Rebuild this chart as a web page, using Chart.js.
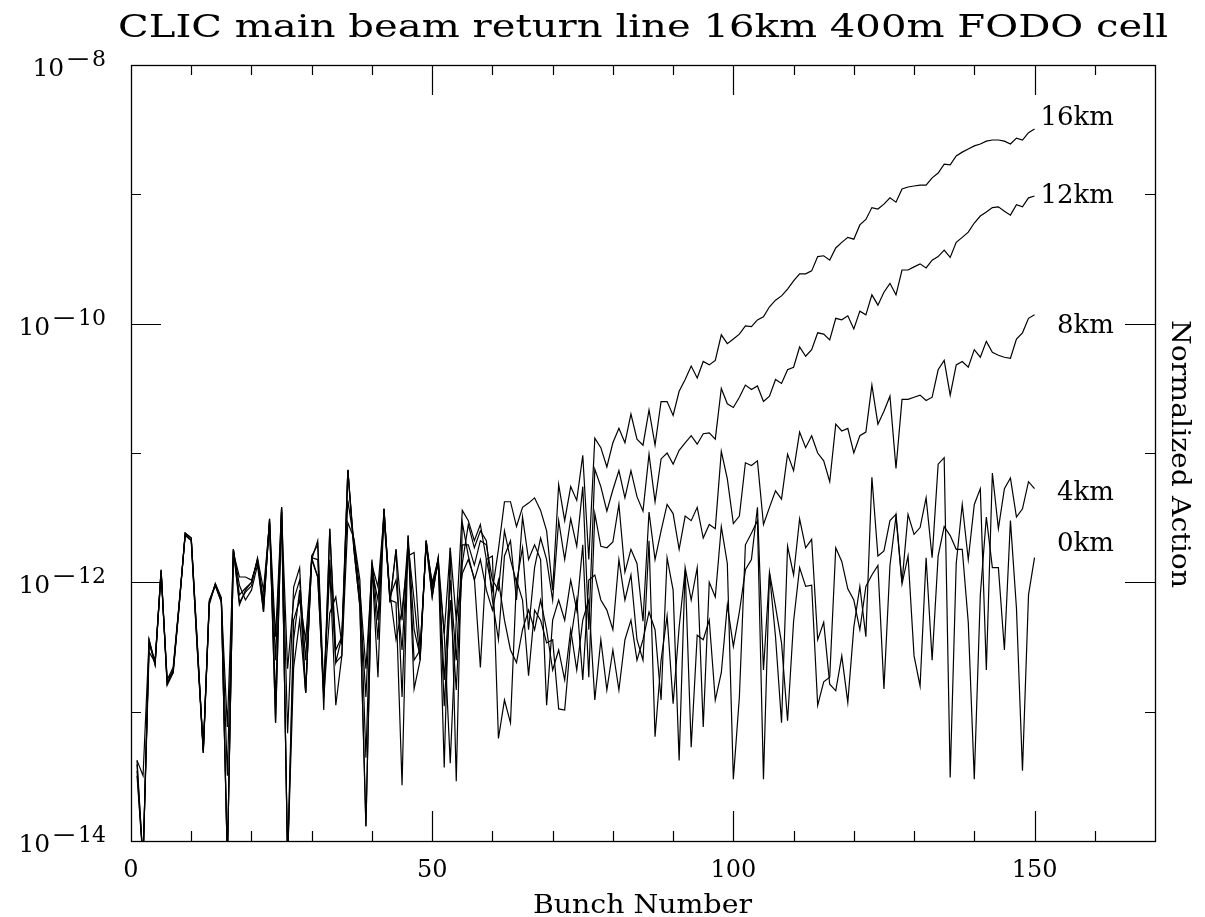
<!DOCTYPE html>
<html>
<head>
<meta charset="utf-8">
<script src="https://cdn.jsdelivr.net/npm/chart.js@4.4.1/dist/chart.umd.min.js"></script>
<style>
  html, body { margin: 0; padding: 0; background: #fff; }
</style>
</head>
<body>
<canvas id="chart-action" width="1205" height="917"></canvas>
<script>
// bunch index along the train
var bunches = Array.from({ length: 150 }, (_, i) => i + 1);

// normalized action per bunch
var action16km = [
  4.2e-14, 3.2e-14, 3.6e-13, 2.3e-13, 1.25e-12, 1.65e-13, 2.1e-13, 6.7e-13, 2.4e-12, 2.2e-12,
  3.3e-13, 5.0e-14, 7.0e-13, 9.7e-13, 7.3e-13, 3.2e-14, 1.8e-12, 8.0e-13, 9.0e-13, 1.0e-12,
  1.5e-12, 5.9e-13, 3.1e-12, 8.2e-14, 3.8e-12, 6.8e-14, 9.2e-13, 1.3e-12, 1.4e-13, 1.55e-12,
  1.1e-12, 1.3e-13, 2.6e-12, 2.4e-13, 3.8e-13, 7.4e-12, 1.8e-12, 6.5e-13, 1.3e-14, 1.36e-12,
  1.85e-13, 3.7e-12, 7.0e-13, 1.8e-12, 1.3e-13, 2.3e-12, 1.5e-13, 2.5e-13, 2.1e-12, 7.7e-13,
  1.55e-12, 4.0e-13, 1.85e-12, 5.1e-13, 3.6e-12, 3.0e-12, 2.1e-12, 2.8e-12, 1.5e-12, 8.7e-13,
  1.8e-12, 4.2e-12, 4.2e-12, 2.7e-12, 3.8e-12, 4.1e-12, 4.5e-12, 3.6e-12, 2.5e-12, 8.7e-13,
  5.7e-12, 3.0e-12, 5.5e-12, 4.3e-12, 9.6e-12, 1.5e-12, 1.3e-11, 1.1e-11, 7.8e-12, 1.2e-11,
  1.55e-11, 1.2e-11, 2.0e-11, 1.28e-11, 1.15e-11, 2.15e-11, 1.15e-11, 2.5e-11, 2.5e-11, 1.95e-11,
  3.0e-11, 3.7e-11, 4.7e-11, 3.8e-11, 5.1e-11, 4.8e-11, 5.2e-11, 8.2e-11, 7.0e-11, 7.6e-11,
  8.3e-11, 9.6e-11, 9.5e-11, 1.07e-10, 1.13e-10, 1.35e-10, 1.52e-10, 1.64e-10, 1.85e-10, 2.14e-10,
  2.43e-10, 2.43e-10, 2.56e-10, 3.3e-10, 3.35e-10, 3.1e-10, 3.85e-10, 4.25e-10, 4.65e-10, 4.5e-10,
  5.8e-10, 6.4e-10, 7.9e-10, 7.7e-10, 8.4e-10, 9.4e-10, 8.7e-10, 1.1e-9, 1.14e-9, 1.16e-9,
  1.18e-9, 1.18e-9, 1.34e-9, 1.46e-9, 1.71e-9, 1.69e-9, 1.98e-9, 2.12e-9, 2.24e-9, 2.37e-9,
  2.45e-9, 2.58e-9, 2.63e-9, 2.63e-9, 2.58e-9, 2.45e-9, 2.72e-9, 2.63e-9, 3.0e-9, 3.2e-9
];

var action12km = [
  3.5e-14, 7e-15, 3.3e-13, 2.5e-13, 1.22e-12, 1.76e-13, 2.2e-13, 7.0e-13, 2.3e-12, 2.1e-12,
  3.1e-13, 5.2e-14, 7.3e-13, 9.5e-13, 7.1e-13, 7.6e-14, 1.7e-12, 1.1e-12, 1.1e-12, 1.04e-12,
  1.45e-12, 7.3e-13, 3.0e-12, 3.8e-13, 3.6e-12, 7e-15, 5.1e-13, 7.3e-13, 3.6e-13, 1.5e-12,
  2.1e-12, 1.47e-13, 1.25e-12, 1.12e-13, 2.7e-13, 2.9e-12, 2.2e-12, 1.04e-12, 4.4e-14, 1.36e-12,
  9.2e-13, 3.3e-12, 8.2e-13, 3.6e-13, 6.1e-13, 1.6e-12, 1.7e-12, 3.0e-13, 1.95e-12, 1.0e-12,
  1.5e-12, 1.76e-13, 1.04e-12, 2.5e-13, 1.95e-12, 1.95e-12, 1.36e-12, 2.1e-12, 1.95e-12, 1.04e-12,
  8.7e-13, 2.5e-12, 1.5e-12, 1.0e-12, 1.85e-12, 4.3e-13, 1.3e-12, 2.2e-12, 1.5e-12, 7.3e-13,
  3.0e-12, 1.5e-12, 3.1e-12, 1.9e-12, 5.5e-12, 4.3e-13, 7.5e-12, 5.5e-12, 3.55e-12, 5.2e-12,
  7.3e-12, 4.5e-12, 7.3e-12, 4.6e-12, 3.55e-12, 9.8e-12, 4.2e-12, 9.0e-12, 1.0e-11, 8.2e-12,
  1.05e-11, 1.2e-11, 1.36e-11, 1.17e-11, 1.41e-11, 1.43e-11, 1.28e-11, 3.15e-11, 2.4e-11, 2.25e-11,
  2.7e-11, 3.35e-11, 3.1e-11, 3.3e-11, 2.5e-11, 2.75e-11, 3.7e-11, 3.45e-11, 4.4e-11, 4.6e-11,
  6.6e-11, 5.6e-11, 6.3e-11, 8.5e-11, 8.3e-11, 7.5e-11, 1.1e-10, 1.07e-10, 1.15e-10, 9.1e-11,
  1.25e-10, 1.17e-10, 1.67e-10, 1.39e-10, 1.75e-10, 2.05e-10, 1.67e-10, 2.6e-10, 2.6e-10, 2.75e-10,
  2.9e-10, 2.7e-10, 3.1e-10, 3.3e-10, 3.7e-10, 3.25e-10, 4.25e-10, 4.65e-10, 5.1e-10, 6.0e-10,
  6.8e-10, 7.3e-10, 7.9e-10, 8.0e-10, 7.4e-10, 6.9e-10, 8.3e-10, 8.0e-10, 9.4e-10, 9.7e-10
];

var action8km = [
  4.2e-14, 7e-15, 3.5e-13, 2.3e-13, 1.25e-12, 1.6e-13, 2.0e-13, 6.5e-13, 2.4e-12, 2.2e-12,
  3.5e-13, 4.8e-14, 6.7e-13, 9.8e-13, 7.6e-13, 7e-15, 1.8e-12, 7.0e-13, 8.4e-13, 9.4e-13,
  1.55e-12, 8.7e-13, 2.9e-12, 2.5e-13, 3.8e-12, 7e-15, 2.2e-13, 5.1e-13, 1.4e-13, 1.55e-12,
  1.5e-12, 1.3e-13, 5.8e-13, 7.7e-13, 3.3e-13, 7.4e-12, 1.95e-12, 7.3e-13, 1.3e-13, 1.5e-12,
  5.1e-13, 3.7e-12, 7.3e-13, 7.0e-13, 2.7e-14, 2.3e-12, 4.3e-13, 2.7e-13, 2.1e-12, 8.7e-13,
  1.55e-12, 1.1e-13, 7.3e-13, 1.47e-13, 1.4e-12, 2.8e-12, 1.85e-12, 2.5e-12, 2.1e-12, 7.3e-13,
  3.6e-13, 1.6e-12, 2.1e-12, 7.3e-13, 3.2e-12, 1.5e-12, 1.95e-12, 1.5e-12, 1.12e-13, 5.1e-13,
  7.3e-13, 5.1e-13, 1.04e-12, 6.1e-13, 1.95e-12, 1.85e-13, 3.4e-12, 1.9e-12, 1.85e-12, 2.05e-12,
  4.0e-12, 1.2e-12, 1.8e-12, 1.4e-12, 5.0e-13, 3.5e-12, 1.5e-12, 2.5e-12, 4.0e-12, 3.4e-12,
  1.8e-12, 3.25e-12, 3.0e-12, 3.8e-12, 2.2e-12, 2.8e-12, 2.6e-12, 1.03e-11, 6.3e-12, 2.85e-12,
  3.25e-12, 8.4e-12, 8.0e-12, 8.7e-12, 2.8e-12, 3.8e-12, 5.1e-12, 4.4e-12, 9.8e-12, 7.3e-12,
  1.45e-11, 1.1e-11, 1.36e-11, 1.0e-11, 8.7e-12, 6.0e-12, 1.67e-11, 1.48e-11, 1.55e-11, 1.0e-11,
  1.36e-11, 1.45e-11, 3.35e-11, 1.67e-11, 2.1e-11, 2.75e-11, 7.6e-12, 2.6e-11, 2.6e-11, 2.7e-11,
  2.8e-11, 2.55e-11, 2.7e-11, 4.4e-11, 5.2e-11, 2.8e-11, 4.8e-11, 5.1e-11, 4.6e-11, 6.3e-11,
  5.5e-11, 7.3e-11, 6.0e-11, 5.7e-11, 5.5e-11, 5.4e-11, 7.6e-11, 8.5e-11, 1.1e-10, 1.17e-10
];

var action4km = [
  3.2e-14, 7e-15, 2.9e-13, 2.4e-13, 1.15e-12, 1.8e-13, 2.0e-13, 6.8e-13, 2.35e-12, 2.1e-12,
  3.0e-13, 4.8e-14, 7.1e-13, 9.4e-13, 7.0e-13, 7e-15, 1.75e-12, 9.5e-13, 7.3e-13, 8.7e-13,
  1.36e-12, 5.9e-13, 3.1e-12, 8.2e-14, 3.5e-12, 2.15e-13, 7.3e-13, 1.04e-12, 2.5e-13, 1.6e-12,
  1.95e-12, 1.03e-13, 2.6e-12, 3.0e-13, 3.8e-13, 4.3e-12, 2.1e-12, 8.7e-13, 2.15e-13, 1.25e-12,
  7.3e-13, 3.0e-12, 7.7e-13, 1.04e-12, 3.0e-13, 1.95e-12, 7.3e-13, 2.5e-13, 2.1e-12, 9.5e-13,
  1.36e-12, 4.0e-13, 4.0e-14, 5.1e-13, 1.17e-12, 1.5e-12, 1.08e-12, 2.2e-13, 1.5e-12, 1.6e-12,
  6.2e-14, 1.23e-13, 8.2e-14, 1.04e-12, 7.3e-13, 1.9e-13, 6.1e-13, 5.1e-13, 3.4e-13, 3.6e-13,
  1.05e-13, 1.03e-13, 3.6e-13, 7.3e-13, 1.76e-13, 1.04e-12, 1.14e-12, 7.3e-13, 6.1e-13, 4.3e-13,
  1.5e-12, 7.3e-13, 1.14e-12, 3.6e-13, 2.5e-13, 2.1e-12, 6.4e-14, 2.5e-13, 5.5e-13, 1.15e-13,
  4.5e-13, 1.25e-12, 5.3e-14, 3.9e-13, 3.6e-13, 5.1e-13, 1.23e-13, 2.0e-13, 6.7e-13, 3.2e-13,
  5.9e-13, 1.25e-12, 1.5e-12, 3.8e-12, 2.1e-13, 1.17e-12, 3.8e-13, 8.2e-14, 1.9e-12, 1.14e-12,
  3.1e-12, 1.85e-12, 2.15e-12, 3.6e-13, 4.9e-13, 1.63e-13, 1.45e-13, 2.7e-13, 1.18e-13, 4.5e-13,
  9.3e-13, 3.8e-13, 6.5e-12, 1.6e-12, 1.75e-12, 3.0e-12, 3.35e-12, 1.0e-12, 3.35e-12, 2.35e-12,
  2.65e-12, 4.5e-12, 1.55e-12, 8.2e-12, 9.2e-12, 3.1e-14, 1.4e-12, 4.0e-12, 1.5e-12, 4.0e-12,
  5.3e-12, 2.1e-13, 7.0e-12, 2.6e-12, 5.3e-12, 6.4e-12, 3.2e-12, 3.7e-12, 6.0e-12, 5.3e-12
];

var action0km = [
  3.9e-14, 7e-15, 3.6e-13, 2.4e-13, 1.22e-12, 1.65e-13, 2.1e-13, 6.7e-13, 2.4e-12, 2.2e-12,
  3.3e-13, 5.0e-14, 7.0e-13, 9.7e-13, 7.3e-13, 7e-15, 1.8e-12, 6.7e-13, 8.7e-13, 1.0e-12,
  1.5e-12, 6.7e-13, 2.8e-12, 1.23e-13, 3.8e-12, 7e-15, 3.6e-13, 8.7e-13, 1.4e-13, 1.5e-12,
  1.1e-12, 1.47e-13, 1.5e-12, 2.4e-13, 2.7e-13, 7.4e-12, 1.8e-12, 6.5e-13, 1.3e-14, 1.36e-12,
  3.6e-13, 3.7e-12, 7.0e-13, 1.8e-12, 5.1e-13, 2.1e-12, 2.5e-13, 3.0e-13, 1.95e-12, 7.7e-13,
  1.5e-12, 3.7e-14, 1.85e-12, 2.9e-14, 2.9e-12, 1.6e-12, 1.04e-12, 1.5e-12, 8.7e-13, 6.1e-13,
  1.04e-12, 5.1e-13, 3.0e-13, 2.4e-13, 4.3e-13, 6.1e-13, 4.3e-13, 7.3e-13, 4.3e-13, 2.1e-13,
  3.0e-13, 1.76e-13, 4.3e-13, 2.1e-13, 5.1e-13, 7.3e-13, 1.23e-13, 3.6e-13, 1.47e-13, 3.0e-13,
  1.47e-13, 3.6e-13, 5.1e-13, 2.5e-13, 3.6e-13, 5.9e-13, 4.3e-13, 1.23e-13, 1.55e-12, 8.7e-13,
  4.2e-14, 1.3e-12, 7.3e-13, 1.3e-12, 7.6e-14, 1.0e-12, 7.7e-13, 2.7e-12, 1.4e-12, 3.0e-14,
  1.3e-13, 1.95e-12, 2.4e-12, 3.0e-12, 3.0e-14, 1.2e-12, 6.5e-13, 3.4e-13, 8.5e-14, 5.0e-13,
  1.3e-12, 9.3e-13, 9.5e-13, 1.12e-13, 1.7e-13, 1.85e-13, 1.85e-12, 1.45e-12, 8.9e-13, 7.3e-13,
  4.3e-13, 9.3e-13, 1.14e-12, 1.35e-12, 1.5e-13, 1.35e-12, 3.25e-12, 9.7e-13, 1.6e-12, 2.7e-13,
  1.58e-13, 1.55e-12, 2.5e-13, 1.6e-12, 2.7e-12, 2.3e-12, 1.8e-12, 1.8e-12, 4.9e-13, 3.0e-14,
  8.0e-13, 3.2e-12, 1.3e-12, 1.3e-12, 3.0e-13, 3.0e-12, 6.3e-13, 3.5e-14, 8.0e-13, 1.55e-12
];

var seriesNames = ["16km", "12km", "8km", "4km", "0km"];
var xTickLabels = [0, 50, 100, 150];
var yTickExponents = [-14, -12, -10, -8];

var FONT = "DejaVu Serif";

function toPoints(values) {
  return values.map(function (v, i) {
    return { x: bunches[i], y: v };
  });
}

// draw text squeezed/stretched to a given width
function fitText(ctx, text, x, y, width, align) {
  var w = ctx.measureText(text).width;
  ctx.save();
  ctx.translate(x, y);
  ctx.scale(width / w, 1);
  ctx.textAlign = align;
  ctx.fillText(text, 0, 0);
  ctx.restore();
}

var framePlugin = {
  id: "frame",
  afterDraw: function (chart) {
    var ctx = chart.ctx;
    var a = chart.chartArea;
    var xs = chart.scales.x;
    var ys = chart.scales.y;

    ctx.save();
    ctx.strokeStyle = "#000";
    ctx.fillStyle = "#000";
    ctx.lineWidth = 1.3;
    ctx.strokeRect(a.left + 0.5, a.top + 0.5, a.right - a.left, a.bottom - a.top);

    // inward ticks on all four sides
    ctx.lineWidth = 1.2;
    ctx.beginPath();
    for (var v = 10; v < 170; v += 10) {
      var px = Math.round(xs.getPixelForValue(v)) + 0.5;
      var len = v % 50 === 0 ? 30 : 10;
      ctx.moveTo(px, a.bottom);
      ctx.lineTo(px, a.bottom - len);
      ctx.moveTo(px, a.top);
      ctx.lineTo(px, a.top + len);
    }
    for (var e = -13; e <= -9; e++) {
      var py = Math.round(ys.getPixelForValue(Math.pow(10, e))) + 0.5;
      var ylen = e % 2 === 0 ? 30 : 10;
      ctx.moveTo(a.left, py);
      ctx.lineTo(a.left + ylen, py);
      ctx.moveTo(a.right, py);
      ctx.lineTo(a.right - ylen, py);
    }
    ctx.stroke();

    // x tick labels
    ctx.font = "24px '" + FONT + "'";
    ctx.textAlign = "center";
    ctx.textBaseline = "alphabetic";
    xTickLabels.forEach(function (t) {
      ctx.fillText(String(t), xs.getPixelForValue(t), 877);
    });

    // y tick labels as 10 with a superscript exponent
    yTickExponents.forEach(function (ex) {
      var py = ys.getPixelForValue(Math.pow(10, ex));
      var right = 106;
      ctx.font = "22px '" + FONT + "'";
      ctx.textAlign = "left";
      var digits = String(Math.abs(ex));
      var dw = ctx.measureText(digits).width;
      var mw = ctx.measureText("\u2212").width * 1.4;
      var supLeft = right - dw - mw - 1;
      ctx.fillText(digits, right - dw, py + 1);
      ctx.save();
      ctx.translate(supLeft, py + 1);
      ctx.scale(1.4, 1);
      ctx.fillText("\u2212", 0, 0);
      ctx.restore();
      ctx.font = "25px '" + FONT + "'";
      ctx.textAlign = "right";
      ctx.fillText("10", supLeft - 1, py + 11);
    });

    // curve labels at the end of each line
    var nudges = [-11, 0, 11, 5, -13];
    ctx.font = "26px '" + FONT + "'";
    ctx.textBaseline = "middle";
    chart.data.datasets.forEach(function (ds, i) {
      var last = ds.data[ds.data.length - 1];
      var py = ys.getPixelForValue(last.y) + nudges[i];
      ctx.textAlign = "right";
      ctx.fillText(ds.label, 1114, py);
    });

    // title and axis titles
    ctx.textBaseline = "alphabetic";
    ctx.font = "32px '" + FONT + "'";
    fitText(ctx, "CLIC main beam return line 16km 400m FODO cell", 118, 37, 1050, "left");

    ctx.font = "26px '" + FONT + "'";
    fitText(ctx, "Bunch Number", 533, 913, 219, "left");

    ctx.save();
    ctx.translate(1172, 320);
    ctx.rotate(Math.PI / 2);
    fitText(ctx, "Normalized Action", 0, 0, 268, "left");
    ctx.restore();

    ctx.restore();
  }
};

var ctx = document.getElementById("chart-action").getContext("2d");

new Chart(ctx, {
  type: "line",
  data: {
    datasets: [
      { label: seriesNames[0], data: toPoints(action16km) },
      { label: seriesNames[1], data: toPoints(action12km) },
      { label: seriesNames[2], data: toPoints(action8km) },
      { label: seriesNames[3], data: toPoints(action4km) },
      { label: seriesNames[4], data: toPoints(action0km) },
    ],
  },
  options: {
    responsive: false,
    animation: false,
    layout: {
      padding: { left: 131, right: 50, top: 65, bottom: 76 },
    },
    elements: {
      point: { radius: 0 },
      line: { borderWidth: 1.2, borderColor: "#000", tension: 0, fill: false },
    },
    plugins: {
      legend: { display: false },
      tooltip: { enabled: false },
    },
    scales: {
      x: { type: "linear", min: 0, max: 170, display: false },
      y: { type: "logarithmic", min: 1e-14, max: 1e-8, display: false },
    },
  },
  plugins: [framePlugin],
});
</script>
</body>
</html>
